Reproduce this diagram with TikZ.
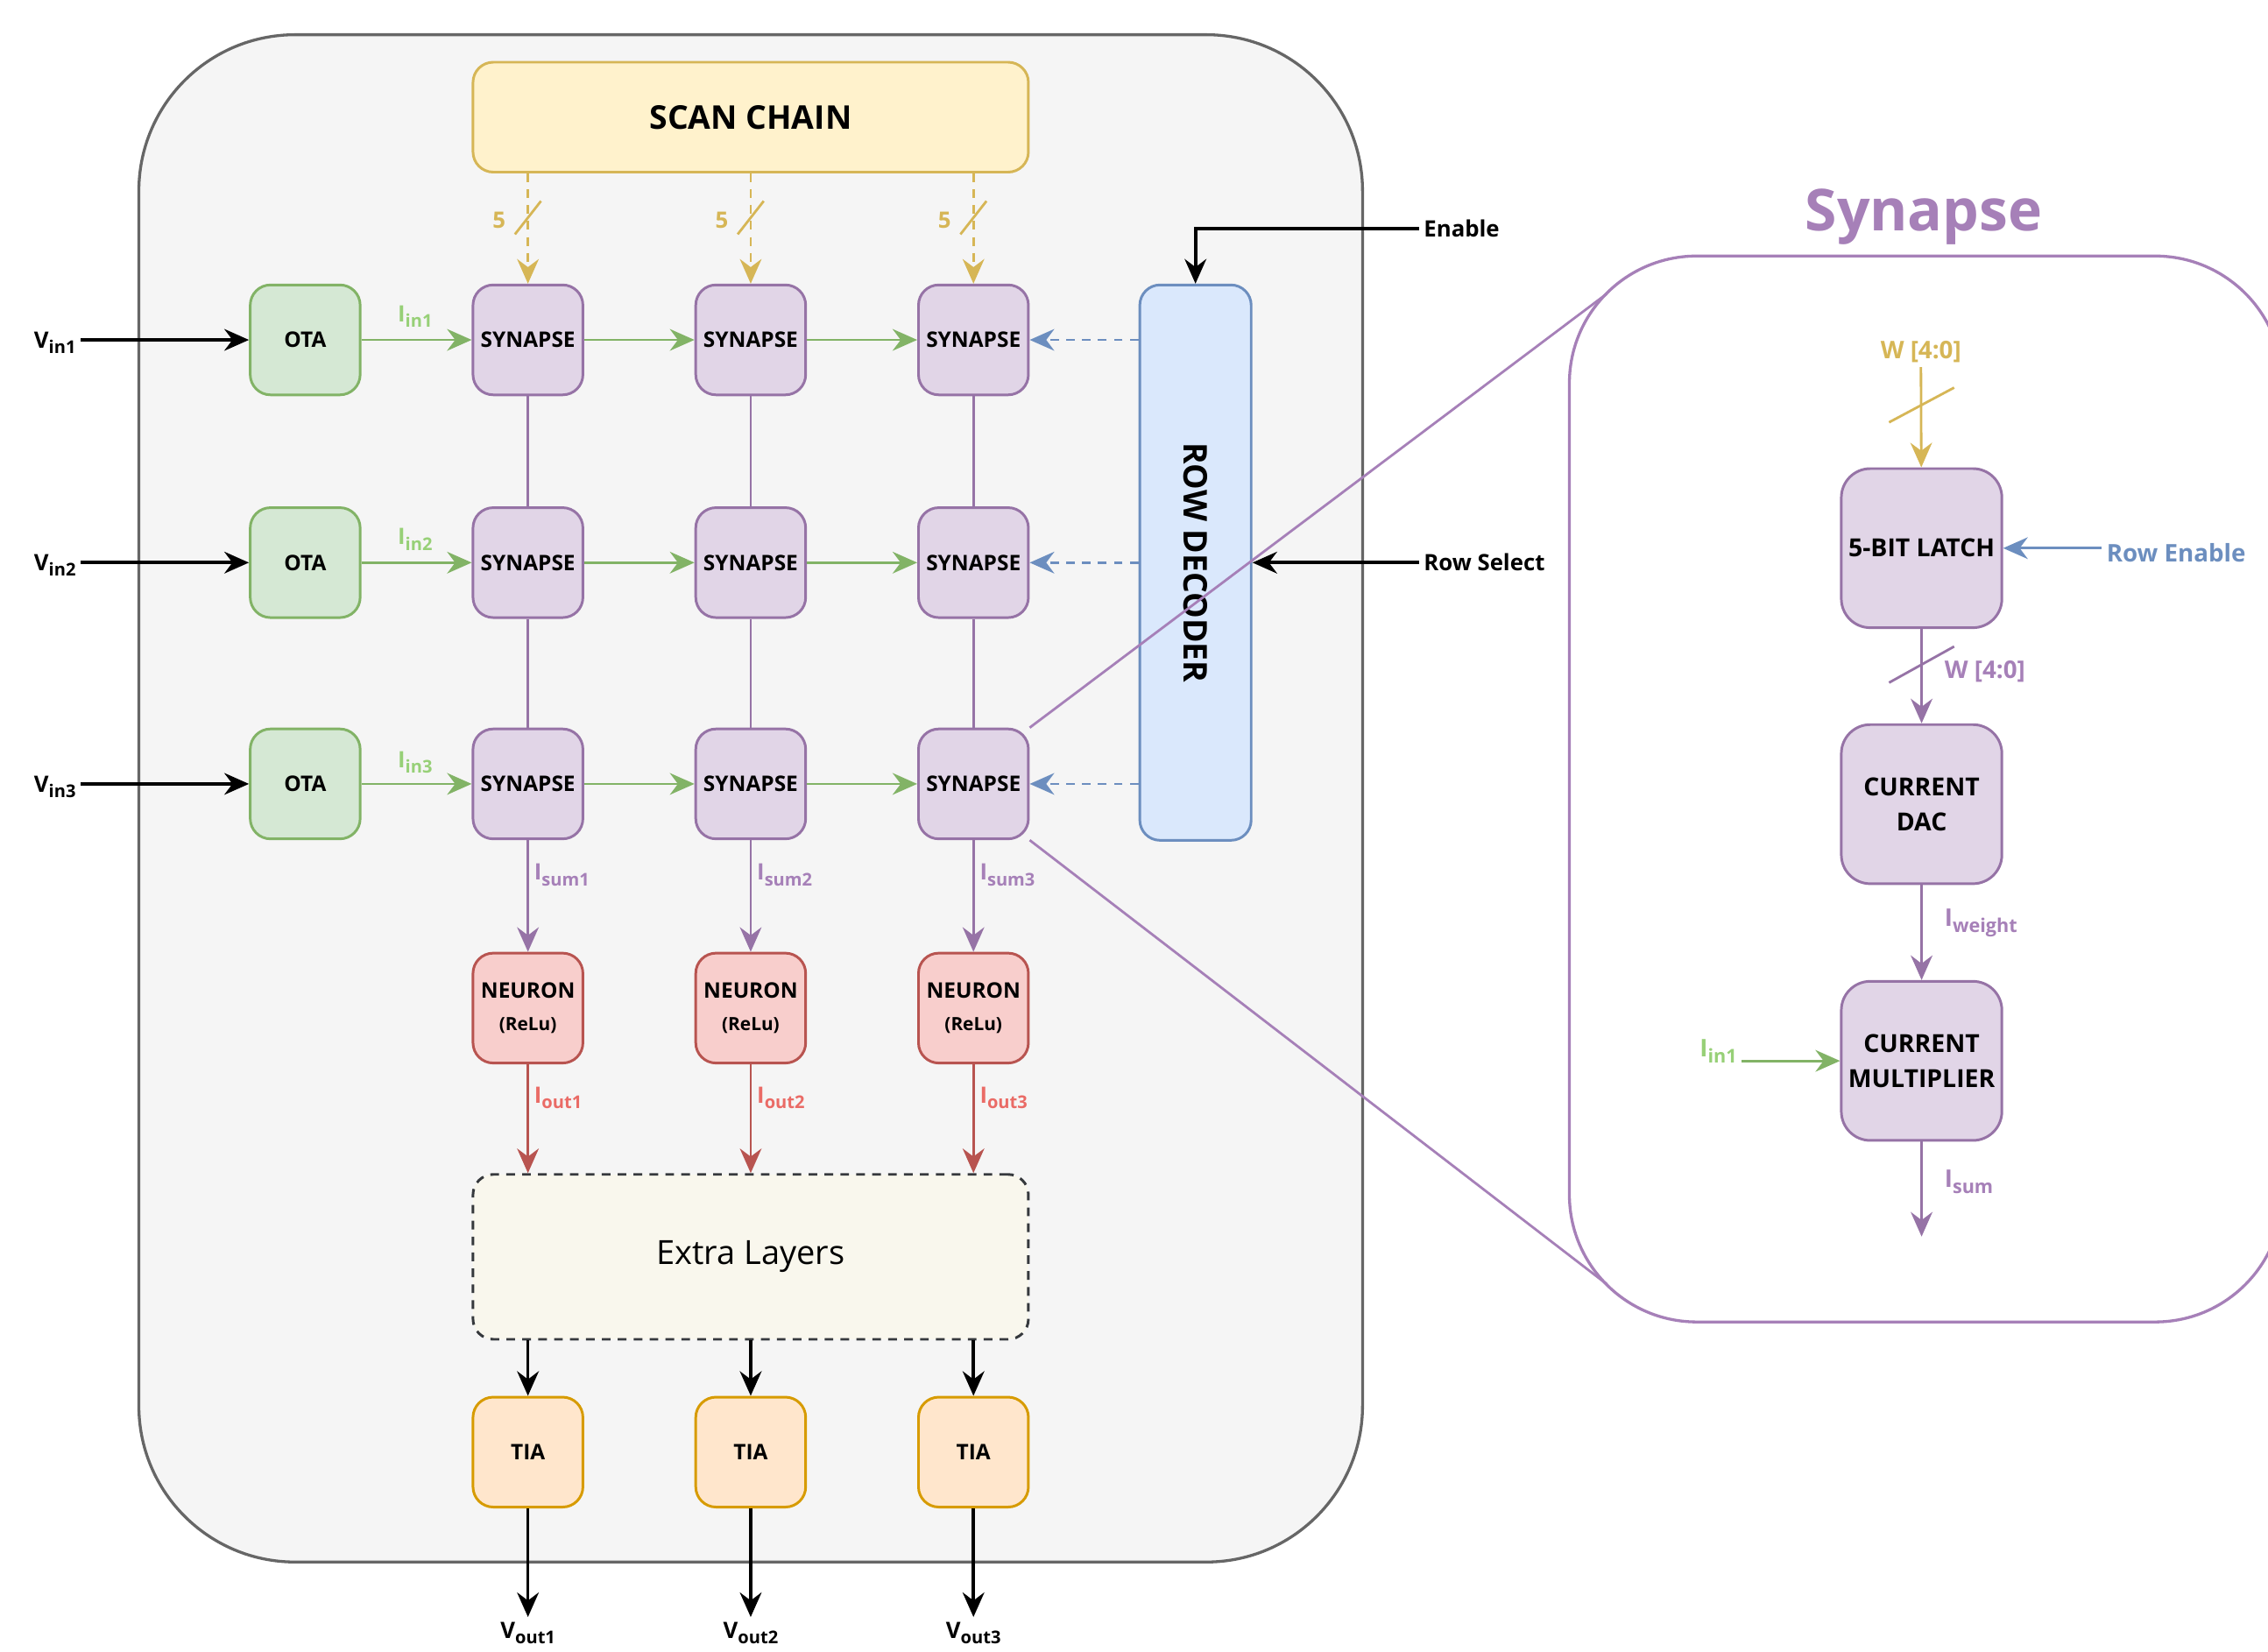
\documentclass[tikz,border=0pt]{standalone}
\usepackage{fontspec}
\setmainfont{Open Sans}
\usetikzlibrary{arrows.meta}
\definecolor{chipfill}{HTML}{F5F5F5}
\definecolor{chipline}{HTML}{666666}
\definecolor{scanfill}{HTML}{FFF2CC}
\definecolor{scanline}{HTML}{D6B656}
\definecolor{synfill}{HTML}{E1D5E7}
\definecolor{synline}{HTML}{9673A6}
\definecolor{otafill}{HTML}{D5E8D4}
\definecolor{otaline}{HTML}{82B366}
\definecolor{neufill}{HTML}{F8CECC}
\definecolor{neuline}{HTML}{B85450}
\definecolor{decfill}{HTML}{DAE8FC}
\definecolor{decline}{HTML}{6C8EBF}
\definecolor{tiafill}{HTML}{FFE6CC}
\definecolor{tialine}{HTML}{D79B00}
\definecolor{xtrfill}{HTML}{F9F7ED}
\definecolor{xtrline}{HTML}{36393D}
\definecolor{gtext}{HTML}{97D077}
\definecolor{ptext}{HTML}{A680B8}
\definecolor{rtext}{HTML}{EA6B66}
\newcommand{\lsub}[2]{#1\raisebox{-0.45ex}{\fontsize{0.78em}{1em}\selectfont #2}}

\begin{document}
\begin{tikzpicture}[x=0.5pt, y=-0.5pt,
  tip/.style={-{Stealth[length=8.5pt,width=7.5pt,inset=2.8pt]}},
  box/.style={draw, line width=0.9pt, rounded corners=7pt, minimum width=38pt, minimum height=38pt, inner sep=1pt, align=center, font=\bfseries\fontsize{7.4}{11}\selectfont},
  syn/.style={box, draw=synline, fill=synfill},
  ota/.style={box, draw=otaline, fill=otafill},
  neu/.style={box, draw=neuline, fill=neufill},
  tia/.style={box, draw=tialine, fill=tiafill},
  sbox/.style={box, draw=synline, fill=synfill, minimum width=55.5pt, minimum height=55pt, rounded corners=10pt, font=\bfseries\fontsize{8.6}{12}\selectfont},
  lbl/.style={inner sep=1.5pt, font=\bfseries\fontsize{7.8}{9}\selectfont},
  glbl/.style={lbl, text=gtext},
  plbl/.style={lbl, text=ptext},
  rlbl/.style={lbl, text=rtext},
  ylbl/.style={lbl, text=scanline},
  blk/.style={tip, draw=black, line width=1.1pt},
  garr/.style={tip, draw=otaline, line width=0.85pt},
  parr/.style={tip, draw=synline, line width=0.85pt},
  rarr/.style={tip, draw=neuline, line width=0.85pt},
  yarr/.style={tip, draw=scanline, line width=0.85pt, dash pattern=on 3pt off 2.5pt},
  barr/.style={tip, draw=decline, line width=0.85pt, dash pattern=on 3pt off 2.5pt},
  plink/.style={draw=synline, line width=0.85pt},
  slash/.style={line width=0.85pt}
]
\useasboundingbox (0,0) rectangle (1568,1142);

\node[draw=chipline, fill=chipfill, line width=1pt, rounded corners=54pt, minimum width=423pt, minimum height=528pt] (chip) at (519,552) {};

\node[box, draw=scanline, fill=scanfill, minimum width=192pt, rounded corners=7pt, font=\bfseries\fontsize{11.3}{13}\selectfont] (scan) at (519,81) {SCAN CHAIN};
\node[box, draw=decline, fill=decfill, minimum width=38.5pt, minimum height=192pt] (dec) at (826.5,389) {};
\node[rotate=-90, font=\bfseries\fontsize{11.3}{13}\selectfont] (dectxt) at (dec) {ROW DECODER};
\node[box, draw=xtrline, fill=xtrfill, dash pattern=on 3pt off 2.5pt, minimum width=192pt, minimum height=57pt, font=\fontsize{11.5}{13}\selectfont] (extra) at (519,869) {Extra Layers};

\node[ota] (o1) at (211,235) {OTA};
\node[ota] (o2) at (211,389) {OTA};
\node[ota] (o3) at (211,542) {OTA};

\node[syn] (s11) at (365,235) {SYNAPSE};
\node[syn] (s12) at (519,235) {SYNAPSE};
\node[syn] (s13) at (673,235) {SYNAPSE};
\node[syn] (s21) at (365,389) {SYNAPSE};
\node[syn] (s22) at (519,389) {SYNAPSE};
\node[syn] (s23) at (673,389) {SYNAPSE};
\node[syn] (s31) at (365,542) {SYNAPSE};
\node[syn] (s32) at (519,542) {SYNAPSE};
\node[syn] (s33) at (673,542) {SYNAPSE};

\node[neu] (n1) at (365,697) {NEURON\\{\fontsize{6.3}{8}\selectfont (ReLu)}};
\node[neu] (n2) at (519,697) {NEURON\\{\fontsize{6.3}{8}\selectfont (ReLu)}};
\node[neu] (n3) at (673,697) {NEURON\\{\fontsize{6.3}{8}\selectfont (ReLu)}};

\node[tia] (t1) at (365,1004) {TIA};
\node[tia] (t2) at (519,1004) {TIA};
\node[tia] (t3) at (673,1004) {TIA};

\node[lbl] (vin1) at (38,237) {\lsub{V}{in1}};
\node[lbl] (vin2) at (38,391) {\lsub{V}{in2}};
\node[lbl] (vin3) at (38,544) {\lsub{V}{in3}};
\draw[blk] (vin1.east |- o1.west) -- (o1.west);
\draw[blk] (vin2.east |- o2.west) -- (o2.west);
\draw[blk] (vin3.east |- o3.west) -- (o3.west);

\node[glbl] (iin1) at (287,219) {\lsub{I}{in1}};
\node[glbl] (iin2) at (287,373) {\lsub{I}{in2}};
\node[glbl] (iin3) at (287,527) {\lsub{I}{in3}};
\draw[garr] (o1) -- (s11);
\draw[garr] (s11) -- (s12);
\draw[garr] (s12) -- (s13);
\draw[garr] (o2) -- (s21);
\draw[garr] (s21) -- (s22);
\draw[garr] (s22) -- (s23);
\draw[garr] (o3) -- (s31);
\draw[garr] (s31) -- (s32);
\draw[garr] (s32) -- (s33);

\draw[plink] (s11) -- (s21);
\draw[plink] (s21) -- (s31);
\draw[plink] (s12) -- (s22);
\draw[plink] (s22) -- (s32);
\draw[plink] (s13) -- (s23);
\draw[plink] (s23) -- (s33);

\draw[yarr] (s11.north |- scan.south) -- (s11.north);
\draw[yarr] (s12.north |- scan.south) -- (s12.north);
\draw[yarr] (s13.north |- scan.south) -- (s13.north);
\draw[slash, draw=scanline] (356,162) -- (374,139);
\draw[slash, draw=scanline] (510,162) -- (528,139);
\draw[slash, draw=scanline] (664,162) -- (682,139);
\node[ylbl] (five1) at (345,152) {5};
\node[ylbl] (five2) at (499,152) {5};
\node[ylbl] (five3) at (653,152) {5};

\draw[barr] (dec.west |- s13.east) -- (s13.east);
\draw[barr] (dec.west |- s23.east) -- (s23.east);
\draw[barr] (dec.west |- s33.east) -- (s33.east);

\node[lbl, anchor=west] (enlbl) at (981,158) {Enable};
\node[lbl, anchor=west] (rslbl) at (981,389) {Row Select};
\draw[blk] (enlbl.west) -| (dec.north);
\draw[blk] (rslbl.west) -- (dec.east);

\node[plbl, anchor=west] (isum1) at (366,605) {\lsub{I}{sum1}};
\node[plbl, anchor=west] (isum2) at (520,605) {\lsub{I}{sum2}};
\node[plbl, anchor=west] (isum3) at (674,605) {\lsub{I}{sum3}};
\draw[parr] (s31) -- (n1);
\draw[parr] (s32) -- (n2);
\draw[parr] (s33) -- (n3);

\node[rlbl, anchor=west] (iout1) at (366,759) {\lsub{I}{out1}};
\node[rlbl, anchor=west] (iout2) at (520,759) {\lsub{I}{out2}};
\node[rlbl, anchor=west] (iout3) at (674,759) {\lsub{I}{out3}};
\draw[rarr] (n1.south) -- (n1.south |- extra.north);
\draw[rarr] (n2.south) -- (n2.south |- extra.north);
\draw[rarr] (n3.south) -- (n3.south |- extra.north);

\draw[blk] (t1.north |- extra.south) -- (t1.north);
\draw[blk] (t2.north |- extra.south) -- (t2.north);
\draw[blk] (t3.north |- extra.south) -- (t3.north);

\node[lbl] (vout1) at (365,1129) {\lsub{V}{out1}};
\node[lbl] (vout2) at (519,1129) {\lsub{V}{out2}};
\node[lbl] (vout3) at (673,1129) {\lsub{V}{out3}};
\draw[blk] (t1.south) -- (t1.south |- vout1.north);
\draw[blk] (t2.south) -- (t2.south |- vout2.north);
\draw[blk] (t3.south) -- (t3.south |- vout3.north);

\node[text=ptext, font=\bfseries\fontsize{20}{24}\selectfont] (title) at (1330,150) {Synapse};
\begin{scope}
\clip (0,0) rectangle (1568,1142);
\node[draw=ptext, fill=white, line width=1pt, rounded corners=44pt, minimum width=246.5pt, minimum height=368.5pt] (panel) at (1331.5,545.5) {};
\end{scope}
\coordinate (zu) at (1111,203);
\coordinate (zd) at (1111,888);
\draw[plink, draw=ptext] (s33.north east) -- (zu);
\draw[plink, draw=ptext] (s33.south east) -- (zd);

\node[sbox] (latch) at (1328.5,379) {5-BIT LATCH};
\node[sbox] (dac) at (1328.5,556) {CURRENT\\DAC};
\node[sbox] (mult) at (1328.5,733.5) {CURRENT\\MULTIPLIER};

\node[ylbl, font=\bfseries\fontsize{8.4}{10}\selectfont] (wtop) at (1328,243) {W [4:0]};
\draw[tip, draw=scanline, line width=0.85pt] (wtop) -- (latch);
\draw[slash, draw=scanline] (1306,292) -- (1351,268);

\node[lbl, text=decline, anchor=west, font=\bfseries\fontsize{8.4}{10}\selectfont] (renable) at (1453,382) {Row Enable};
\draw[tip, draw=decline, line width=0.85pt] (renable.west |- latch.east) -- (latch.east);

\draw[parr] (latch) -- (dac);
\draw[slash, draw=synline] (1306,472) -- (1351,447);
\node[plbl, anchor=west, font=\bfseries\fontsize{8.4}{10}\selectfont] (wmid) at (1341,464) {W [4:0]};

\draw[parr] (dac) -- (mult);
\node[plbl, anchor=west, font=\bfseries\fontsize{8.4}{10}\selectfont] (iweight) at (1341,638) {\lsub{I}{weight}};

\node[glbl, font=\bfseries\fontsize{8.4}{10}\selectfont] (iinr) at (1188,727) {\lsub{I}{in1}};
\draw[garr] (iinr.east |- mult.west) -- (mult.west);

\coordinate (isumend) at (1328.5,855);
\draw[parr] (mult) -- (isumend);
\node[plbl, anchor=west, font=\bfseries\fontsize{8.4}{10}\selectfont] (isumr) at (1341,817) {\lsub{I}{sum}};
\end{tikzpicture}
\end{document}
